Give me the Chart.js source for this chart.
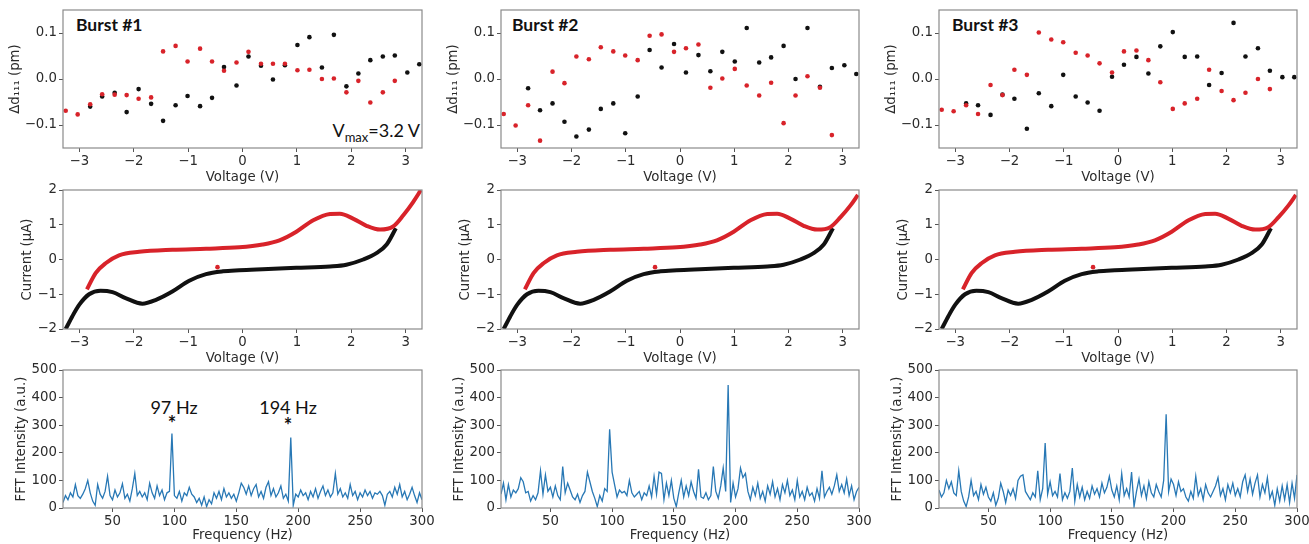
<!DOCTYPE html>
<html>
<head>
<meta charset="utf-8">
<script src="https://cdn.jsdelivr.net/npm/chart.js@4.4.1/dist/chart.umd.min.js"></script>
<style>
  body { margin: 0; background: #fff; }
  #fig { position: relative; width: 1309px; height: 544px; overflow: hidden; background: #fff; }
  #fig canvas { position: absolute; }
  .lbl { position: absolute; font-family: Lato, "Open Sans", sans-serif; color: #111; white-space: nowrap; }
  .burst { font-weight: bold; font-size: 17.5px; line-height: 21px; }
  .note { font-size: 18px; line-height: 21.6px; width: 120px; text-align: center; }
  .star { font-weight: bold; font-size: 20px; line-height: 24px; width: 40px; text-align: center; }
  .vmax { font-size: 18px; line-height: 21.6px; right: 889px; top: 120px; }
  .vmax span { font-size: 13px; position: relative; top: 5px; }
</style>
</head>
<body>
<div id="fig">
  <div class="lbl burst" style="left:76px;top:14px">Burst #1</div>
  <div class="lbl burst" style="left:512px;top:14px">Burst #2</div>
  <div class="lbl burst" style="left:952px;top:14px">Burst #3</div>
  <div class="lbl vmax">V<span>max</span>=3.2 V</div>
  <div class="lbl note" style="left:114px;top:397px">97 Hz</div>
  <div class="lbl star" style="left:152px;top:411px">*</div>
  <div class="lbl note" style="left:228px;top:397px">194 Hz</div>
  <div class="lbl star" style="left:268px;top:413px">*</div>
</div>
<script>
// --- lattice spacing vs voltage (top row) ---
var voltRed = [-3.25, -3.03, -2.80, -2.58, -2.35, -2.13, -1.91, -1.68, -1.46, -1.23, -1.01, -0.78, -0.56, -0.34,
  -0.11, 0.11, 0.34, 0.56, 0.78, 1.01, 1.23, 1.46, 1.68, 1.91, 2.13, 2.35, 2.58, 2.80];
var voltBlack = [-2.80, -2.58, -2.35, -2.13, -1.91, -1.68, -1.46, -1.23, -1.01, -0.78, -0.56, -0.34, -0.11, 0.11,
  0.34, 0.56, 0.78, 1.01, 1.23, 1.46, 1.68, 1.91, 2.13, 2.35, 2.58, 2.80, 3.03, 3.25];

var burst1Red = [-0.069, -0.077, -0.055, -0.033, -0.034, -0.035, -0.043, -0.040, 0.060, 0.072, 0.038, 0.066, 0.038, 0.018,
  0.036, 0.059, 0.033, 0.033, 0.033, 0.019, 0.020, 0.000, 0.001, -0.029, -0.004, -0.051, -0.029, -0.004];
var burst1Black = [-0.060, -0.038, -0.030, -0.072, -0.022, -0.054, -0.091, -0.057, -0.037, -0.059, -0.041, 0.026, -0.014, 0.049,
  0.029, -0.001, 0.030, 0.074, 0.091, 0.025, 0.096, -0.016, 0.012, 0.041, 0.049, 0.051, 0.014, 0.032];
var burst2Red = [-0.076, -0.101, -0.057, -0.134, 0.016, -0.009, 0.049, 0.043, 0.069, 0.060, 0.051, 0.041, 0.094, 0.097,
  0.059, 0.067, 0.075, -0.019, 0.001, 0.022, -0.014, -0.036, -0.008, -0.096, -0.036, 0.006, -0.019, -0.122];
var burst2Black = [-0.020, -0.068, -0.053, -0.093, -0.125, -0.110, -0.065, -0.053, -0.118, -0.038, 0.063, 0.025, 0.076, 0.014,
  0.052, 0.017, 0.059, 0.038, 0.111, 0.036, 0.047, 0.072, 0.000, 0.111, -0.017, 0.024, 0.030, 0.011];
var burst3Red = [-0.067, -0.070, -0.057, -0.076, -0.013, -0.035, 0.020, 0.009, 0.101, 0.086, 0.080, 0.057, 0.051, 0.034,
  0.014, 0.060, 0.062, 0.041, -0.007, -0.065, -0.053, -0.043, 0.020, -0.026, -0.046, -0.030, 0.000, -0.022];
var burst3Black = [-0.053, -0.057, -0.078, -0.034, -0.043, -0.108, -0.031, -0.059, 0.009, -0.038, -0.051, -0.069, 0.005, 0.031,
  0.048, 0.012, 0.071, 0.102, 0.048, 0.049, -0.013, 0.013, 0.122, 0.049, 0.067, 0.018, 0.004, 0.004];

// --- cyclic voltammetry (middle row) ---
var cvRedV = [-2.86, -2.70, -2.51, -2.27, -1.90, -1.29, -0.67, -0.06, 0.37, 0.68, 0.99, 1.30, 1.61, 1.79, 2.04,
  2.28, 2.53, 2.77, 2.96, 3.14, 3.28];
var cvRedI1 = [-0.86, -0.39, -0.10, 0.12, 0.22, 0.28, 0.31, 0.35, 0.43, 0.55, 0.80, 1.13, 1.31, 1.32, 1.17,
  0.97, 0.86, 0.95, 1.28, 1.66, 2.00];
var cvRedI23 = [-0.86, -0.39, -0.10, 0.12, 0.22, 0.28, 0.31, 0.35, 0.43, 0.55, 0.80, 1.13, 1.31, 1.32, 1.17,
  0.97, 0.86, 0.93, 1.22, 1.55, 1.86];
var cvBlackV = [-3.25, -3.13, -3.00, -2.82, -2.61, -2.39, -2.15, -1.84, -1.59, -1.29, -0.98, -0.67, -0.36, -0.06,
  0.37, 0.99, 1.61, 1.91, 2.22, 2.47, 2.65, 2.82];
var cvBlackI = [-2.00, -1.64, -1.30, -1.00, -0.90, -0.94, -1.11, -1.27, -1.16, -0.92, -0.61, -0.42, -0.34, -0.31,
  -0.28, -0.24, -0.20, -0.15, 0.00, 0.19, 0.43, 0.90];
var cvStrayV = [-0.46];
var cvStrayI = [-0.22];

// --- FFT spectra (bottom row) ---
var freqs = [
  10, 12, 14, 16, 18, 20, 22, 24, 26, 28,
  30, 32, 34, 36, 38, 40, 42, 44, 46, 48,
  50, 52, 54, 56, 58, 60, 62, 64, 66, 68,
  70, 72, 74, 76, 78, 80, 82, 84, 86, 88,
  90, 92, 94, 96, 98, 100, 102, 104, 106, 108,
  110, 112, 114, 116, 118, 120, 122, 124, 126, 128,
  130, 132, 134, 136, 138, 140, 142, 144, 146, 148,
  150, 152, 154, 156, 158, 160, 162, 164, 166, 168,
  170, 172, 174, 176, 178, 180, 182, 184, 186, 188,
  190, 192, 194, 196, 198, 200, 202, 204, 206, 208,
  210, 212, 214, 216, 218, 220, 222, 224, 226, 228,
  230, 232, 234, 236, 238, 240, 242, 244, 246, 248,
  250, 252, 254, 256, 258, 260, 262, 264, 266, 268,
  270, 272, 274, 276, 278, 280, 282, 284, 286, 288,
  290, 292, 294, 296, 298, 300];
var fft1 = [
  20, 45, 30, 55, 40, 85, 45, 35, 50, 70,
  100, 55, 25, 10, 85, 50, 35, 60, 115, 45,
  30, 65, 40, 55, 88, 35, 50, 25, 70, 125,
  45, 60, 40, 55, 30, 90, 55, 35, 80, 45,
  65, 30, 55, 60, 270, 45, 35, 60, 25, 55,
  45, 75, 50, 40, 20, 35, 10, 40, 5, 30,
  15, 55, 35, 60, 30, 70, 40, 55, 35, 50,
  25, 55, 90, 75, 50, 80, 45, 70, 85, 40,
  60, 35, 75, 95, 45, 70, 40, 55, 80, 35,
  50, 25, 255, 10, 50, 40, 65, 45, 55, 30,
  60, 40, 70, 35, 60, 80, 45, 65, 40, 55,
  125, 50, 70, 40, 55, 35, 85, 45, 60, 30,
  55, 40, 65, 45, 60, 35, 55, 50, 60, 45,
  10, 50, 60, 40, 75, 50, 85, 40, 60, 30,
  50, 75, 45, 20, 55, 30];
var fft2 = [
  50, 90, 30, 85, 40, 65, 55, 70, 110, 95,
  55, 60, 25, 45, 30, 55, 135, 50, 120, 60,
  75, 40, 80, 45, 30, 150, 55, 90, 65, 40,
  30, 50, 20, 45, 60, 130, 95, 60, 35, 5,
  45, 25, 70, 60, 285, 130, 85, 40, 65, 55,
  60, 45, 100, 55, 40, 50, 60, 30, 55, 45,
  80, 40, 115, 50, 130, 125, 30, 90, 45, 100,
  35, 5, 55, 100, 40, 80, 45, 95, 60, 35,
  140, 40, 35, 55, 30, 45, 150, 60, 35, 80,
  145, 60, 446, 20, 90, 40, 70, 145, 110, 125,
  60, 30, 75, 45, 90, 35, 60, 25, 80, 50,
  95, 40, 70, 30, 85, 55, 100, 45, 65, 30,
  100, 40, 60, 30, 75, 45, 55, 25, 70, 35,
  135, 40, 60, 75, 50, 80, 120, 60, 85, 55,
  105, 45, 80, 30, 60, 75];
var fft3 = [
  65, 40, 55, 100, 70, 95, 55, 45, 135, 60,
  25, 5, 40, 100, 45, 60, 30, 85, 50, 75,
  40, 25, 55, 10, 35, 90, 60, 20, 65, 45,
  70, 35, 100, 115, 120, 60, 45, 30, 55, 40,
  135, 30, 70, 235, 50, 95, 45, 60, 40, 125,
  30, 55, 35, 60, 145, 25, 85, 40, 75, 30,
  60, 35, 80, 50, 70, 40, 90, 55, 75, 115,
  65, 40, 80, 30, 125, 45, 70, 40, 130, 5,
  60, 105, 45, 80, 35, 95, 55, 40, 85, 60,
  40, 100, 340, 60, 105, 85, 45, 95, 60, 70,
  40, 25, 60, 35, 115, 45, 70, 30, 85, 55,
  40, 60, 80, 110, 45, 70, 30, 85, 55, 90,
  45, 70, 40, 95, 120, 60, 105, 50, 90, 120,
  40, 85, 55, 110, 35, 60, 10, 70, 25, 80,
  30, 85, 20, 90, 35, 120];

var voltTicks = [-3, -2, -1, 0, 1, 2, 3];
var dTicks = [-0.1, 0, 0.1];
var curTicks = [-2, -1, 0, 1, 2];
var freqTicks = [50, 100, 150, 200, 250, 300];
var fftTicks = [0, 100, 200, 300, 400, 500];

// panel geometry (plot area in page pixels)
var colLeft = [63, 501, 939];
var colWidth = [359, 358, 358];
var rowTop = [10, 190, 370];
var rowHeight = [138, 139, 138];
var xAxisH = [38, 38, 36];
var yTitlePad = [7, 19, 13];
var Y_AXIS_W = 62, PAD_TOP = 10, PAD_RIGHT = 12;

var RED = '#d8232a';
var FONT = { family: "'DejaVu Sans', sans-serif", size: 13.3 };

function pts(xs, ys) {
  return xs.map(function (x, i) { return { x: x, y: ys[i] }; });
}

function fmt(v, digits) {
  var s = Math.abs(v).toFixed(digits);
  return v < 0 ? '\u2212' + s : s;
}

// box round the plot, like matplotlib spines
var framePlugin = {
  id: 'frame',
  afterDraw: function (chart) {
    var a = chart.chartArea, ctx = chart.ctx;
    ctx.save();
    ctx.strokeStyle = '#8a8a8a';
    ctx.lineWidth = 1.2;
    ctx.strokeRect(a.left, a.top, a.right - a.left, a.bottom - a.top);
    ctx.restore();
  }
};

function makeScale(pos, min, max, ticks, digits, title, size, titlePad) {
  return {
    type: 'linear',
    position: pos,
    min: min,
    max: max,
    afterBuildTicks: function (s) {
      s.ticks = ticks.map(function (v) { return { value: v }; });
    },
    afterFit: function (s) {
      if (pos === 'left') s.width = size; else s.height = size;
      s.paddingLeft = 0; s.paddingRight = 0; s.paddingTop = 0; s.paddingBottom = 0;
    },
    border: { display: false },
    grid: { drawOnChartArea: false, drawTicks: true, tickLength: 4, color: '#555', lineWidth: 1 },
    ticks: {
      autoSkip: false, maxRotation: 0, padding: 2, color: '#2b2b2b', font: FONT,
      callback: function (v) { return fmt(v, digits); }
    },
    title: { display: true, text: title, color: '#2b2b2b', font: FONT, padding: titlePad }
  };
}

function makePanel(row, col, datasets, xs, ys) {
  var w = Y_AXIS_W + colWidth[col] + PAD_RIGHT;
  var h = PAD_TOP + rowHeight[row] + xAxisH[row];
  var c = document.createElement('canvas');
  c.width = w; c.height = h;
  c.style.left = (colLeft[col] - Y_AXIS_W) + 'px';
  c.style.top = (rowTop[row] - PAD_TOP) + 'px';
  document.getElementById('fig').appendChild(c);

  new Chart(c, {
    type: 'scatter',
    data: { datasets: datasets },
    options: {
      responsive: false,
      animation: false,
      events: [],
      devicePixelRatio: 1,
      layout: { padding: { left: 0, top: PAD_TOP, right: PAD_RIGHT, bottom: 0 } },
      plugins: { legend: { display: false }, tooltip: { enabled: false } },
      scales: {
        x: makeScale('bottom', xs.min, xs.max, xs.ticks, xs.digits, xs.title, xAxisH[row], { top: 0, bottom: 0 }),
        y: makeScale('left', ys.min, ys.max, ys.ticks, ys.digits, ys.title, Y_AXIS_W, { top: yTitlePad[row], bottom: 0 })
      }
    },
    plugins: [framePlugin]
  });
}

function dots(data, color) {
  return { data: data, pointRadius: 2.3, pointBorderWidth: 0, pointBackgroundColor: color, showLine: false };
}

function curve(data, color, width) {
  return {
    data: data, showLine: true, borderColor: color, borderWidth: width, pointRadius: 0,
    cubicInterpolationMode: 'monotone', fill: false
  };
}

var voltAxis = { min: -3.3, max: 3.3, ticks: voltTicks, digits: 0, title: 'Voltage (V)' };
var dAxis = { min: -0.15, max: 0.15, ticks: dTicks, digits: 1, title: 'Δd\u2081\u2081\u2081 (pm)' };
var curAxis = { min: -2, max: 2, ticks: curTicks, digits: 0, title: 'Current (µA)' };
var freqAxis = { min: 10, max: 300, ticks: freqTicks, digits: 0, title: 'Frequency (Hz)' };
var fftAxis = { min: 0, max: 500, ticks: fftTicks, digits: 0, title: 'FFT Intensity (a.u.)' };

var reds = [burst1Red, burst2Red, burst3Red];
var blacks = [burst1Black, burst2Black, burst3Black];
var cvReds = [cvRedI1, cvRedI23, cvRedI23];
var ffts = [fft1, fft2, fft3];

for (var col = 0; col < 3; col++) {
  makePanel(0, col, [
    dots(pts(voltRed, reds[col]), RED),
    dots(pts(voltBlack, blacks[col]), '#111')
  ], voltAxis, dAxis);

  makePanel(1, col, [
    dots(pts(cvStrayV, cvStrayI), RED),
    curve(pts(cvRedV, cvReds[col]), RED, 4),
    curve(pts(cvBlackV, cvBlackI), '#111', 4)
  ], voltAxis, curAxis);

  makePanel(2, col, [
    { data: pts(freqs, ffts[col]), showLine: true, borderColor: '#2878b5', borderWidth: 1.3, pointRadius: 0, tension: 0 }
  ], freqAxis, fftAxis);
}
</script>
</body>
</html>
